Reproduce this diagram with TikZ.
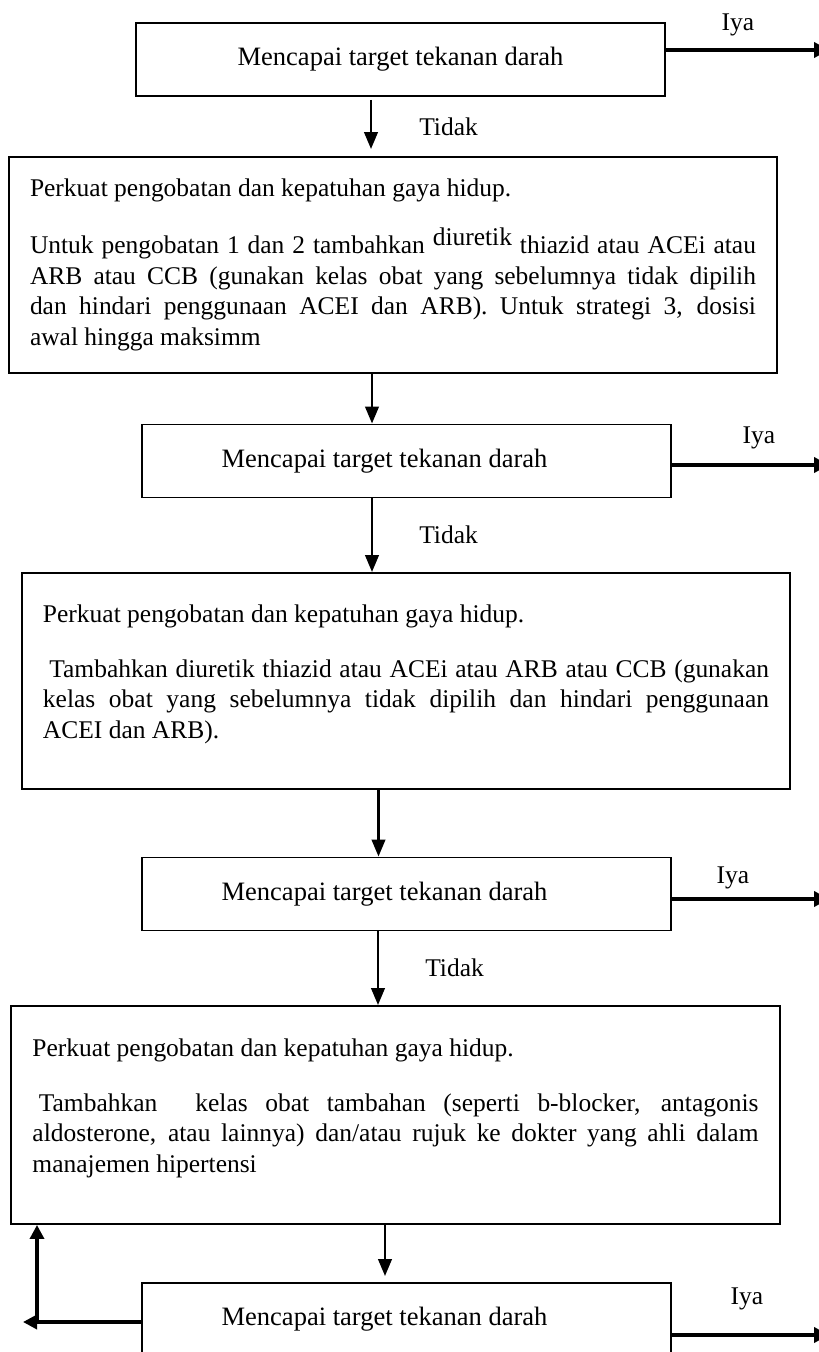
\documentclass[tikz,border=0pt]{standalone}
\usepackage{fontspec}
\setmainfont{Liberation Serif}
\usepackage{tikz}
\usetikzlibrary{positioning,arrows.meta}
\tolerance=10000
\newcommand{\boxpad}{\par\kern0.26cm\hrule height0pt}
\tikzset{
  tgnode/.style={draw=black,line width=1.1pt,minimum width=10.58cm,minimum height=1.46cm,
    font=\fontsize{15.1}{18}\selectfont,inner sep=0pt},
  acnode/.style={draw=black,line width=1.1pt,minimum width=15.36cm,minimum height=4.32cm,
    text width=14.52cm,align=justify,inner xsep=0.42cm,inner ysep=0pt,
    font=\fontsize{14.5}{17.4}\selectfont},
  lbl/.style={font=\fontsize{14.5}{17.4}\selectfont,inner sep=0pt},
  edgeD/.style={line width=1.5pt,-{Triangle[length=0.34cm,width=0.27cm]}},
  edgeY/.style={line width=2.3pt,-{Triangle[length=0.3cm,width=0.3cm]}},
  edgeB/.style={line width=1.9pt,-{Triangle[length=0.28cm,width=0.28cm]}},
}
\begin{document}
\begin{tikzpicture}
  \useasboundingbox (0,0) rectangle (16.38,-27.04);
  \node[tgnode] (t1) at (8.01,-1.19) {Mencapai target tekanan darah};
  \node[acnode] (a1) at (7.86,-5.30) {Perkuat pengobatan dan kepatuhan gaya hidup.\par\vspace{0.48cm}Untuk pengobatan 1 dan 2 tambahkan \raisebox{0.16cm}{diuretik} thiazid atau ACEi atau\linebreak ARB atau CCB (gunakan kelas obat yang sebelumnya tidak dipilih\linebreak dan hindari penggunaan ACEI dan ARB). Untuk strategi 3, dosisi\linebreak awal hingga maksimm};
  \node[tgnode] (t2) at (8.13,-9.22) {\hspace*{-0.88cm}Mencapai target tekanan darah};
  \node[acnode] (a2) at (8.12,-13.62) {Perkuat pengobatan dan kepatuhan gaya hidup.\par\vspace{0.48cm}\hspace*{0.25em}Tambahkan diuretik thiazid atau ACEi atau ARB atau CCB (gunakan\linebreak kelas obat yang sebelumnya tidak dipilih dan hindari penggunaan\linebreak ACEI dan ARB).\boxpad};
  \node[tgnode] (t3) at (8.13,-17.88) {\hspace*{-0.88cm}Mencapai target tekanan darah};
  \node[acnode,minimum width=15.38cm,minimum height=4.36cm] (a3) at (7.91,-22.30) {Perkuat pengobatan dan kepatuhan gaya hidup.\par\vspace{0.48cm}\hspace*{0.25em}Tambahkan\hspace{0.8em} kelas obat tambahan (seperti b-blocker, antagonis\linebreak aldosterone, atau lainnya) dan/atau rujuk ke dokter yang ahli dalam\linebreak manajemen hipertensi\boxpad};
  \node[tgnode] (t4) at (8.13,-26.39) {\hspace*{-0.88cm}Mencapai target tekanan darah};
  % ya
  \coordinate (y1) at (16.58,-1.00);
  \coordinate (y2) at (16.58,-9.30);
  \coordinate (y3) at (16.58,-17.98);
  \coordinate (y4) at (16.58,-26.70);
  \node[lbl,anchor=base] (iya1) at (14.76,-0.60) {Iya};
  \node[lbl,anchor=base] (iya2) at (15.18,-8.86) {Iya};
  \node[lbl,anchor=base] (iya3) at (14.66,-17.66) {Iya};
  \node[lbl,anchor=base] (iya4) at (14.94,-26.08) {Iya};
  \draw[edgeY] (t1.east |- y1) -- (y1);
  \draw[edgeY] (t2.east |- y2) -- (y2);
  \draw[edgeY] (t3.east |- y3) -- (y3);
  \draw[edgeY] (t4.east |- y4) -- (y4);
  % tidak
  \draw[edgeD,shorten <=0.06cm,shorten >=0.14cm] (7.42,0 |- t1.south) -- node[lbl,anchor=west,xshift=0.94cm] (td1) {Tidak} (7.42,0 |- a1.north);
  \draw[edgeD] (7.44,0 |- a1.south) -- (7.44,0 |- t2.north);
  \draw[edgeD] (7.44,0 |- t2.south) -- node[lbl,anchor=west,xshift=0.92cm] (td2) {Tidak} (7.44,0 |- a2.north);
  \draw[edgeD] (7.57,0 |- a2.south) -- (7.57,0 |- t3.north);
  \draw[edgeD] (7.56,0 |- t3.south) -- node[lbl,anchor=west,xshift=0.92cm] (td3) {Tidak} (7.56,0 |- a3.north);
  \draw[edgeD,shorten >=0.12cm] (7.70,0 |- a3.south) -- (7.70,0 |- t4.north);
  % kembali
  \coordinate (bk) at (0.74,-26.44);
  \coordinate (bl) at (0.46,-26.44);
  \draw[edgeB] (t4.west |- bk) -- (bl);
  \draw[edgeB] (bk) -- (bk |- a3.south);
\end{tikzpicture}
\end{document}
